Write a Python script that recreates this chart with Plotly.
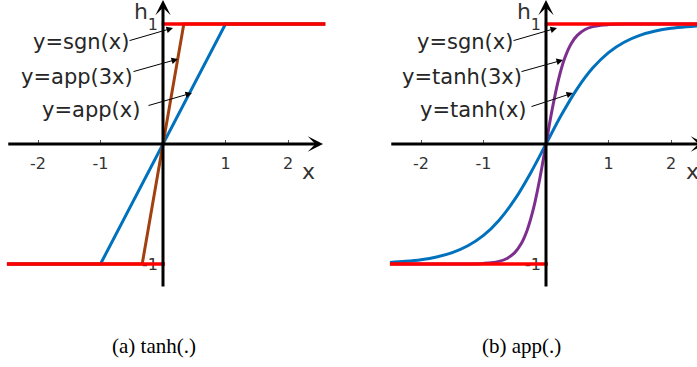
import plotly.graph_objects as go

# ---------------- data ----------------
# left panel: piecewise-linear approximation app(.) and sign
app_x = [-2.5, -1.0, 1.0, 2.6]
app_y = [-1.0, -1.0, 1.0, 1.0]
app3_x = [-2.5, -0.333, 0.333, 2.6]
app3_y = [-1.0, -1.0, 1.0, 1.0]
sgn_left_x = [-2.5, 0.03, None, -0.02, 2.6]
sgn_left_y = [-1.0, -1.0, None, 1.0, 1.0]

# right panel: tanh curves
tanh_x = [-2.5, -2.25, -2.0, -1.75, -1.5, -1.25, -1.0, -0.75, -0.5, -0.25, 0.0,
          0.25, 0.5, 0.75, 1.0, 1.25, 1.5, 1.75, 2.0, 2.25, 2.5]
tanh_y = [-0.987, -0.978, -0.964, -0.941, -0.905, -0.848, -0.762, -0.635, -0.462, -0.245, 0.0,
          0.245, 0.462, 0.635, 0.762, 0.848, 0.905, 0.941, 0.964, 0.978, 0.987]
tanh3_x = [-2.5, -2.0, -1.5, -1.25, -1.0, -0.875, -0.75, -0.625, -0.5, -0.4, -0.3, -0.2, -0.1, 0.0,
           0.1, 0.2, 0.3, 0.4, 0.5, 0.625, 0.75, 0.875, 1.0, 1.25, 1.5, 2.0, 2.5]
tanh3_y = [-1.0, -1.0, -1.0, -0.999, -0.995, -0.990, -0.978, -0.954, -0.905, -0.834, -0.716, -0.537, -0.291, 0.0,
           0.291, 0.537, 0.716, 0.834, 0.905, 0.954, 0.978, 0.990, 0.995, 0.999, 1.0, 1.0, 1.0]
sgn_right_x = [-2.5, 0.03, None, -0.02, 2.5]
sgn_right_y = [-1.0, -1.0, None, 1.0, 1.0]

x_tick_vals = [-2, -1, 1, 2]
x_tick_text = ["-2", "-1", "1", "2"]
y_tick_vals = [-1, 1]
y_tick_text = ["-1", "1"]

left_labels = ["y=sgn(x)", "y=app(3x)", "y=app(x)"]
right_labels = ["y=sgn(x)", "y=tanh(3x)", "y=tanh(x)"]
captions = ["(a) tanh(.)", "(b) app(.)"]

# label placement (text centre, arrow tail, arrow head) in data units
left_text_pos = [(-1.32, 0.85), (-1.376, 0.558), (-1.152, 0.283)]
left_tail = [(-0.56, 0.858), (-0.496, 0.60), (-0.256, 0.317)]
left_head = [(0.16, 0.967), (0.24, 0.708), (0.464, 0.425)]
right_text_pos = [(-1.304, 0.85), (-1.352, 0.558), (-1.168, 0.283)]
right_tail = [(-0.544, 0.858), (-0.416, 0.60), (-0.256, 0.308)]
right_head = [(0.176, 0.967), (0.272, 0.70), (0.432, 0.425)]

BLUE = "#0072BD"
BROWN = "#A2400F"
PURPLE = "#7E2F8E"
RED = "#FF0000"
SANS = "DejaVu Sans, Arial, sans-serif"

W, H = 697, 367
fig = go.Figure()

# left panel traces
fig.add_trace(go.Scatter(x=app_x, y=app_y, mode="lines", line=dict(color=BLUE, width=3),
                         xaxis="x", yaxis="y", showlegend=False, hoverinfo="skip"))
fig.add_trace(go.Scatter(x=app3_x, y=app3_y, mode="lines", line=dict(color=BROWN, width=3),
                         xaxis="x", yaxis="y", showlegend=False, hoverinfo="skip"))
fig.add_trace(go.Scatter(x=sgn_left_x, y=sgn_left_y, mode="lines", line=dict(color=RED, width=3.5),
                         xaxis="x", yaxis="y", showlegend=False, hoverinfo="skip"))
# right panel traces
fig.add_trace(go.Scatter(x=tanh_x, y=tanh_y, mode="lines", line=dict(color=BLUE, width=3, shape="spline"),
                         xaxis="x2", yaxis="y2", showlegend=False, hoverinfo="skip"))
fig.add_trace(go.Scatter(x=tanh3_x, y=tanh3_y, mode="lines", line=dict(color=PURPLE, width=3, shape="spline"),
                         xaxis="x2", yaxis="y2", showlegend=False, hoverinfo="skip"))
fig.add_trace(go.Scatter(x=sgn_right_x, y=sgn_right_y, mode="lines", line=dict(color=RED, width=3.5),
                         xaxis="x2", yaxis="y2", showlegend=False, hoverinfo="skip"))

ox_left, ox_right, oy = 163, 546, 144
ydom = [(H - 288) / H, 1.0]
tickfont = dict(family=SANS, size=16, color="#333333")

common_x = dict(showgrid=False, zeroline=False, showline=False, ticks="inside",
                ticklen=4, tickwidth=1, tickcolor="#555555", tickvals=x_tick_vals, ticktext=x_tick_text,
                tickfont=tickfont, anchor="free", position=(H - oy) / H, layer="below traces",
                ticklabelstandoff=8, fixedrange=True)
common_y = dict(range=[-1.2, 1.2], domain=ydom, showgrid=False, zeroline=False, showline=False,
                ticks="", tickvals=y_tick_vals, ticktext=y_tick_text, tickfont=tickfont,
                anchor="free", layer="below traces", ticklabelstandoff=5, fixedrange=True)

fig.update_layout(
    width=W, height=H, margin=dict(l=0, r=0, t=0, b=0),
    paper_bgcolor="white", plot_bgcolor="white",
    xaxis=dict(common_x, range=[-2.5, 2.6], domain=[(ox_left - 156.25) / W, (ox_left + 162.5) / W]),
    yaxis=dict(common_y, position=ox_left / W),
    xaxis2=dict(common_x, range=[-2.5, (W - ox_right) / 62.5], domain=[(ox_right - 156.25) / W, 1.0]),
    yaxis2=dict(common_y, position=ox_right / W),
)

annos = []
for xr, yr in (("x", "y"), ("x2", "y2")):
    # axis arrows
    annos.append(dict(x=2.56, y=0, ax=-2.5, ay=0, xref=xr, yref=yr, axref=xr, ayref=yr, text="",
                      showarrow=True, arrowhead=3, arrowsize=0.85, arrowwidth=3, arrowcolor="black",
                      standoff=0, startstandoff=0))
    annos.append(dict(x=0, y=1.2, ax=0, ay=-1.2, xref=xr, yref=yr, axref=xr, ayref=yr, text="",
                      showarrow=True, arrowhead=3, arrowsize=0.85, arrowwidth=3, arrowcolor="black",
                      standoff=0, startstandoff=0))
    # axis names
    annos.append(dict(x=-0.35, y=1.105, xref=xr, yref=yr, text="h", showarrow=False,
                      xanchor="center", yanchor="middle",
                      font=dict(family=SANS, size=22, color="#333333")))
    annos.append(dict(x=2.32 if xr == "x" else 2.35, y=-0.225, xref=xr, yref=yr, text="x", showarrow=False,
                      xanchor="center", yanchor="middle",
                      font=dict(family=SANS, size=22, color="#333333")))

for xr, yr, labels, tpos, tails, heads in (("x", "y", left_labels, left_text_pos, left_tail, left_head),
                                           ("x2", "y2", right_labels, right_text_pos, right_tail, right_head)):
    for lab, tp, tl, hd in zip(labels, tpos, tails, heads):
        annos.append(dict(x=tp[0], y=tp[1], xref=xr, yref=yr, text=lab, showarrow=False,
                          xanchor="center", yanchor="middle",
                          font=dict(family=SANS, size=21, color="#262626")))
        annos.append(dict(x=hd[0], y=hd[1], ax=tl[0], ay=tl[1], xref=xr, yref=yr, axref=xr, ayref=yr,
                          text="", showarrow=True, arrowhead=2, arrowsize=1.3, arrowwidth=1,
                          arrowcolor="black", standoff=0, startstandoff=0))

for cap, cx in zip(captions, [154, 521]):
    annos.append(dict(x=cx / W, y=(H - 346) / H, xref="paper", yref="paper", text=cap, showarrow=False,
                      xanchor="center", yanchor="middle",
                      font=dict(family="Liberation Serif, Times New Roman, serif", size=21, color="black")))

fig.update_layout(annotations=annos)
fig.write_html("out.html", config={"displayModeBar": False},
               post_script="document.body.style.margin='0';document.body.style.overflow='hidden';")
